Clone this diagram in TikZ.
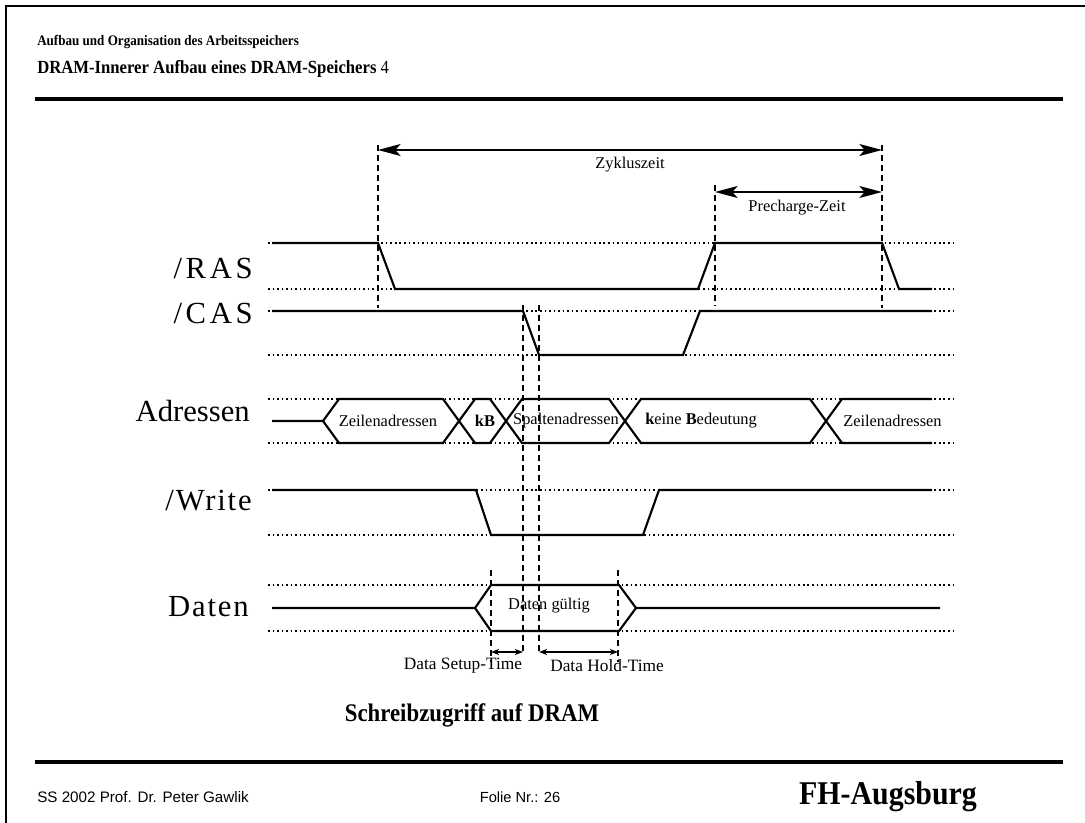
\documentclass[tikz,border=0pt]{standalone}
\usepackage{fontspec}
\setmainfont{Liberation Serif}
\setsansfont{Liberation Sans}
\newfontfamily\condserif[FakeStretch=0.9]{Liberation Serif}
\usetikzlibrary{arrows.meta}
\tikzset{
  sig/.style={line width=1.6pt, line join=miter},
  guide/.style={line width=0.9pt, dash pattern=on 1.2pt off 2.2pt},
  vguide/.style={line width=1pt, dash pattern=on 4.5pt off 3pt},
  bigdim/.style={line width=0.9pt, {Stealth[length=17pt,width=9pt,inset=4pt]}-{Stealth[length=17pt,width=9pt,inset=4pt]}},
  smalldim/.style={line width=0.9pt, {Stealth[length=6pt,width=4.5pt,inset=1.5pt]}-{Stealth[length=6pt,width=4.5pt,inset=1.5pt]}},
  siglabel/.style={anchor=east, inner sep=0pt, font=\fontsize{23}{26}\selectfont},
  celltext/.style={inner sep=0pt, font=\fontsize{12.3}{14}\selectfont},
  dimtext/.style={inner sep=0pt, font=\fontsize{12.3}{14}\selectfont},
  rule/.style={line width=2.6pt}
}
\begin{document}
\begin{tikzpicture}[x=0.75pt,y=-0.75pt]
\useasboundingbox (0,0) rectangle (1085,823);
% frame
\draw[line width=1.5pt] (6,823) -- (6,6) -- (1085,6);
% header
\node[anchor=west, inner sep=0pt, font=\condserif\fontsize{10.9}{12}\selectfont\bfseries] (hdr1) at (37,42) {Aufbau und Organisation des Arbeitsspeichers};
\node[anchor=west, inner sep=0pt, font=\condserif\fontsize{13.9}{16}\selectfont] (hdr2) at (37,69) {\textbf{DRAM-Innerer Aufbau eines DRAM-Speichers} 4};
\draw[rule] (35,99) -- (1063,99);
\draw[rule] (35,762) -- (1063,762);
% footer
\node[anchor=west, inner sep=0pt, font=\sffamily\fontsize{11.4}{13}\selectfont] (ft1) at (37,797) {SS 2002 Prof. Dr. Peter Gawlik};
\node[inner sep=0pt, font=\sffamily\fontsize{11}{13}\selectfont] (ft2) at (520,797) {Folie Nr.: 26};
\node[inner sep=0pt, font=\condserif\fontsize{24.9}{28}\selectfont\bfseries] (ft3) at (888,797) {FH-Augsburg};
\node[inner sep=0pt, font=\condserif\fontsize{19}{22}\selectfont\bfseries] (caption) at (472,715) {Schreibzugriff auf DRAM};

% signal labels
\node[siglabel] (lras) at (253,268) {\addfontfeature{LetterSpace=12}/RAS};
\node[siglabel] (lcas) at (253,313) {\addfontfeature{LetterSpace=12}/CAS};
\node[siglabel] (ladr) at (250,411) {Adressen};
\node[siglabel] (lwr) at (252,501) {\addfontfeature{LetterSpace=6}/Write};
\node[siglabel] (ldat) at (249,607) {\addfontfeature{LetterSpace=6}Daten};

% dotted level guides
\foreach \yy in {243,289,311,355,399,443,490,535,585,631}
  \draw[guide] (268,\yy) -- (956,\yy);

% vertical dashed guides
\coordinate (vA1) at (378,145); \coordinate (vA2) at (378,308);
\coordinate (vB1) at (715,185); \coordinate (vB2) at (715,306);
\coordinate (vC1) at (882,145); \coordinate (vC2) at (882,308);
\coordinate (vD1) at (523,305); \coordinate (vD2) at (523,655);
\coordinate (vE1) at (539,305); \coordinate (vE2) at (539,655);
\coordinate (vF1) at (491,570); \coordinate (vF2) at (491,662);
\coordinate (vG1) at (618,570); \coordinate (vG2) at (618,662);
\foreach \a/\b in {vA1/vA2,vB1/vB2,vC1/vC2,vD1/vD2,vE1/vE2,vF1/vF2,vG1/vG2}
  \draw[vguide] (\a) -- (\b);

% /RAS
\draw[sig] (272,243) -- (378,243) -- (395,289) -- (698,289) -- (715,243) -- (882,243) -- (899,289) -- (932,289);
% /CAS
\draw[sig] (272,311) -- (523,311) -- (539,355) -- (683,355) -- (700,311) -- (932,311);
% Adressen
\draw[sig] (272,421) -- (323,421) -- (339,399) -- (443,399) -- (475,443) -- (490,443) -- (522,399) -- (609,399) -- (641,443) -- (810,443) -- (842,399) -- (932,399);
\draw[sig] (323,421) -- (339,443) -- (443,443) -- (475,399) -- (490,399) -- (522,443) -- (609,443) -- (641,399) -- (810,399) -- (842,443) -- (932,443);
\node[celltext] (a1) at (388,421) {Zeilenadressen};
\node[celltext] (a2) at (485,421) {\textbf{kB}};
\node[celltext] (a3) at (566,421) {Spaltenadressen};
\node[celltext, anchor=west] (a4) at (645,421) {\textbf{k}eine \textbf{B}edeutung};
\node[celltext, anchor=west] (a5) at (843,421) {Zeilenadressen};
% /Write
\draw[sig] (272,490) -- (476,490) -- (491,535) -- (643,535) -- (659,490) -- (932,490);
% Daten
\draw[sig] (272,608) -- (475,608) -- (491,585) -- (619,585) -- (636,608) -- (940,608);
\draw[sig] (475,608) -- (491,631) -- (619,631) -- (636,608);
\node[celltext] (d1) at (549,606) {Daten gültig};

% dimension arrows
\draw[bigdim] (vA1 |- 0,150) -- (vC1 |- 0,150);
\node[dimtext] (tz) at (630,165) {Zykluszeit};
\draw[bigdim] (vB1 |- 0,192) -- (vC1 |- 0,192);
\node[dimtext] (tp) at (797,208) {Precharge-Zeit};
\draw[smalldim] (vF1 |- 0,652) -- (vD1 |- 0,652);
\draw[smalldim] (vE1 |- 0,652) -- (vG1 |- 0,652);
\node[dimtext, font=\fontsize{13}{15}\selectfont] (ts) at (463,666) {Data Setup-Time};
\node[dimtext, font=\fontsize{13}{15}\selectfont] (th) at (607,666) {Data Hold-Time};
\end{tikzpicture}
\end{document}
